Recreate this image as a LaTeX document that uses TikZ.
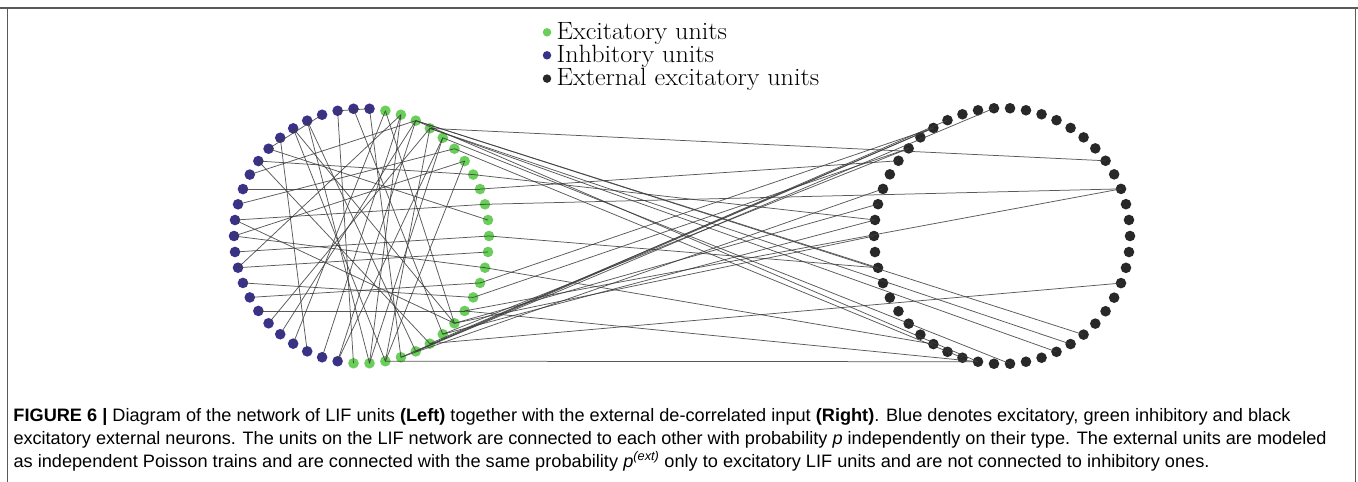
\documentclass[tikz,border=0pt]{standalone}
\usepackage{fontspec}
\usepackage{graphicx}
\newfontfamily\capfont{Liberation Sans}
\usetikzlibrary{calc}
\definecolor{exccol}{RGB}{106,206,90}
\definecolor{inhcol}{RGB}{58,50,136}
\definecolor{extcol}{RGB}{40,40,40}
\definecolor{framecol}{RGB}{90,90,90}
\definecolor{edgecol}{RGB}{60,60,60}
\tikzset{
  unit/.style={circle, inner sep=0pt, minimum size=10.6pt, draw=none},
  keydot/.style={circle, inner sep=0pt, minimum size=8.5pt, draw=none},
  link/.style={draw=edgecol, line width=0.75pt, opacity=0.85},
  keytext/.style={anchor=base west, inner sep=0pt, font=\fontsize{25}{25}\selectfont},
  captext/.style={anchor=base west, inner sep=0pt, font=\capfont\fontsize{18}{23}\selectfont},
}
\newcommand\keywide[1]{\scalebox{1.045}[1]{#1}}
\begin{document}
\begin{tikzpicture}[x=1pt,y=-1pt]
\useasboundingbox (0,0) rectangle (1358,482);
\fill[white] (0,0) rectangle (1358,482);
% frame of the figure panel
\draw[framecol, line width=1.3pt] (0,8) -- (1358,8);
\draw[framecol, line width=1pt] (7.5,8) -- (7.5,482);
\draw[framecol, line width=1pt] (1355,8) -- (1355,482);

% legend
\node[keydot, fill=exccol] (k1) at (547,32.3) {};
\node[keydot, fill=inhcol] (k2) at (547,55.3) {};
\node[keydot, fill=extcol] (k3) at (547,78.6) {};
\node[keytext] (t1) at (556.5,39.3) {\keywide{Excitatory units}};
\node[keytext] (t2) at (556.5,62.3) {\keywide{Inhbitory units}};
\node[keytext] (t3) at (556.5,85.3) {\keywide{External excitatory units}};

% centres of the two rings
\coordinate (Lc) at (361.5,236);
\coordinate (Rc) at (1002,236);

% units of the LIF network (left) and external units (right);
% unit k sits at 7.2k degrees, counter-clockwise from the right
\foreach \k in {0,...,49}{
  \pgfmathtruncatemacro\isinh{and(\k>11,\k<37)}
  \ifnum\isinh=1 \def\ucol{inhcol}\else\def\ucol{exccol}\fi
  \node[unit, fill=\ucol] (L\k) at ($(Lc)+({-7.2*\k}:127.5)$) {};
  \node[unit, fill=extcol] (R\k) at ($(Rc)+({-7.2*\k}:128)$) {};
}

% recurrent connections inside the LIF network
\foreach \a/\b in {12/40,13/43,11/44,10/38,9/36,15/19,17/39,16/41,18/34,19/1,
  22/3,23/6,24/2,21/9,27/10,28/46,29/47,30/45,31/8,32/9,38/7,39/5,39/8,37/14,
  20/42,26/0,25/5,33/11,14/12,17/44,16/38,25/48,27/49,35/10,36/7,24/44,20/4}
  \draw[link] (L\a.center) -- (L\b.center);

% external input onto excitatory units
\foreach \a/\b in {8/5,2/3,9/43,4/24,9/27,9/36,8/42,8/41,7/38,6/35,
  42/47,45/3,44/25,45/36,39/36,41/17,42/17,43/19,41/13,40/22,46/19,44/23,43/24,
  48/33,0/27,3/20,47/17,40/16}
  \draw[link] (L\a.center) -- (R\b.center);

% caption
\node[captext] (c1) at (13.3,421) {\resizebox{1277pt}{\height}{\textbf{FIGURE 6 |} Diagram of the network of LIF units \textbf{(Left)} together with the external de-correlated input \textbf{(Right)}. Blue denotes excitatory, green inhibitory and black}};
\node[captext] (c2) at (13.3,444) {\resizebox{1313pt}{\height}{excitatory external neurons. The units on the LIF network are connected to each other with probability \textit{p} independently on their type. The external units are modeled}};
\node[captext] (c3) at (13.3,467) {\resizebox{1196pt}{\height}{as independent Poisson trains and are connected with the same probability \textit{p}\textsuperscript{\textit{(ext)}} only to excitatory LIF units and are not connected to inhibitory ones.}};
\end{tikzpicture}
\end{document}
